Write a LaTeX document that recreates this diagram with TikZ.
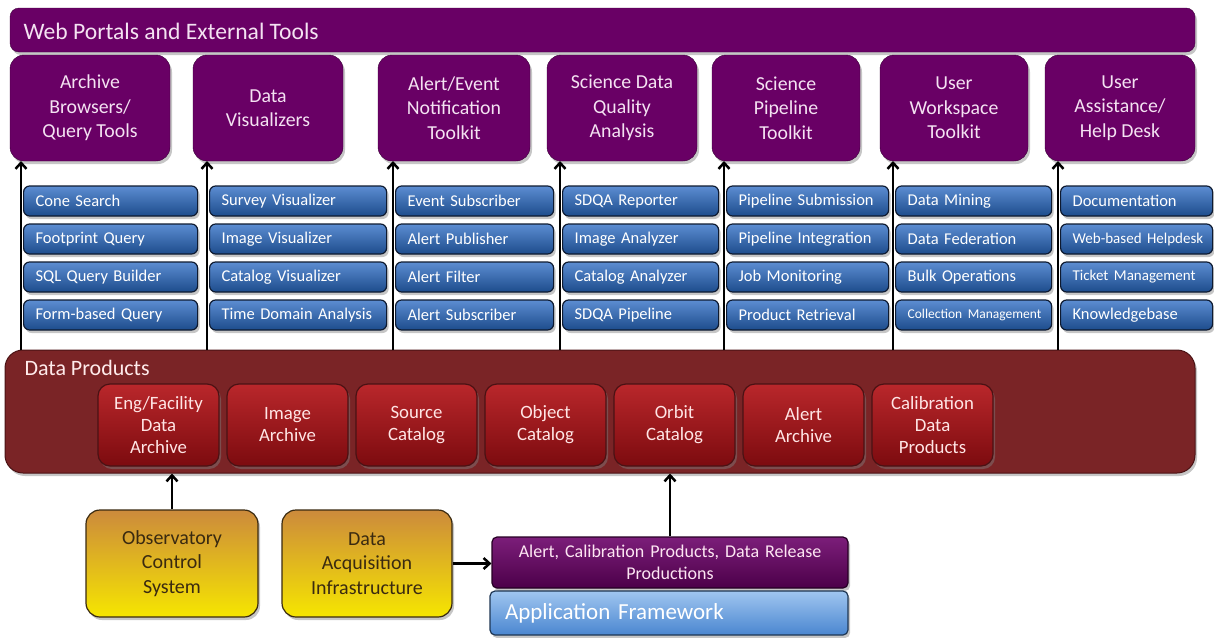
\documentclass[tikz,border=0pt]{standalone}
\usepackage{fontspec}
\setmainfont{Carlito}
\usetikzlibrary{arrows.meta,shadows,positioning}

\definecolor{portal}{HTML}{690065}
\definecolor{portaltext}{HTML}{F4E2F2}
\definecolor{subtop}{HTML}{5C8DD2}
\definecolor{subbot}{HTML}{1D4C8C}
\definecolor{subedge}{HTML}{0E1A30}
\definecolor{dpfill}{HTML}{7A2426}
\definecolor{dpedge}{HTML}{4A1214}
\definecolor{redtop}{HTML}{B9272B}
\definecolor{redbot}{HTML}{7C0B0F}
\definecolor{ctrltop}{HTML}{CC8A3C}
\definecolor{ctrlbot}{HTML}{F6E600}
\definecolor{ctrltext}{HTML}{3A2A10}
\definecolor{reltop}{HTML}{7C1E7A}
\definecolor{relbot}{HTML}{4C0049}
\definecolor{aftop}{HTML}{A0C6F0}
\definecolor{afbot}{HTML}{4A86D0}

\newcommand\smallsub{\fontsize{13.5}{15}\selectfont}
\newcommand\midsub{\fontsize{15}{17}\selectfont}

\tikzset{
  boxshadow/.style={drop shadow={opacity=0.45,shadow xshift=2pt,shadow yshift=-3pt}},
  portalbar/.style={fill=portal,draw=portal!60!black,rounded corners=9,boxshadow},
  toolbox/.style={fill=portal,draw=portal!55!black,rounded corners=14,boxshadow,
    minimum height=106,inner sep=0,text=portaltext,align=center,
    font=\fontsize{19.8}{24.5}\selectfont},
  subbox/.style={top color=subtop,bottom color=subbot,draw=subedge,line width=1.2,
    rounded corners=6,boxshadow,minimum height=30,inner xsep=12,inner ysep=0,
    anchor=west,align=left,text=white,font=\fontsize{16.5}{19}\selectfont},
  dpbox/.style={fill=dpfill,draw=dpedge,line width=1,rounded corners=18,boxshadow},
  prodbox/.style={top color=redtop,bottom color=redbot,draw=dpedge,line width=1.2,
    rounded corners=12,boxshadow,minimum width=121,minimum height=82,inner sep=0,
    align=center,text=white!90!red,font=\fontsize{18.8}{22}\selectfont},
  ctrlbox/.style={top color=ctrltop,bottom color=ctrlbot,draw=ctrltext,line width=1.2,
    rounded corners=14,boxshadow,minimum width=172,minimum height=107,inner sep=0,
    align=center,text=ctrltext,font=\fontsize{20}{24.5}\selectfont},
  relbox/.style={top color=reltop,bottom color=relbot,draw=relbot!50!black,line width=1.2,
    rounded corners=5,boxshadow,minimum width=356,minimum height=51,inner sep=0,
    text width=345,align=center,text=white!90!magenta,font=\fontsize{18}{22}\selectfont},
  afbox/.style={top color=aftop,bottom color=afbot,draw=afbot!40!black,line width=1.2,
    rounded corners=5,boxshadow,minimum height=44,inner xsep=15,inner ysep=0,
    text width=328,align=left,text=white,font=\fontsize{23}{26}\selectfont},
  uparrow/.style={-{Straight Barb[length=6pt,width=11pt]},line width=2.5,black},
}

\begin{document}
\begin{tikzpicture}[x=1pt,y=-1pt]
  \useasboundingbox (0,0) rectangle (1214,637);

  % web portals bar
  \node[portalbar,minimum width=1185,minimum height=44] (web) at (602.5,30) {};
  \node[anchor=west,text=portaltext,font=\fontsize{23.6}{27}\selectfont]
    (webtitle) at (20,31) {Web Portals and External Tools};

  % data products
  \node[dpbox,minimum width=1190,minimum height=123] (dp) at (600,411.5) {};
  \node[anchor=west,text=white!92!red,font=\fontsize{22}{26}\selectfont]
    (dptitle) at (21,368) {Data Products};
  \foreach \t [count=\k] in {{Eng/Facility\\Data\\Archive},{Image\\Archive},
      {Source\\Catalog},{Object\\Catalog},{Orbit\\Catalog},{Alert\\Archive},
      {Calibration\\Data\\Products}}
    \node[prodbox] (prod\k) at ({158.5+129*(\k-1)},425) {\t};

  % tool columns
  \foreach \i/\l/\r/\a/\sr/\name/\subs in {
      1/10/170/21/199/{Archive\\Browsers/\\Query Tools}/{Cone Search,Footprint Query,SQL Query Builder,Form-based Query},
      2/193/343/207/388/{Data\\Visualizers}/{Survey Visualizer,Image Visualizer,Catalog Visualizer,Time Domain Analysis},
      3/378/530/393/555/{Alert/Event\\Notification\\Toolkit}/{Event Subscriber,Alert Publisher,Alert Filter,Alert Subscriber},
      4/547/697/560/720/{Science Data\\Quality\\Analysis}/{SDQA Reporter,Image Analyzer,Catalog Analyzer,SDQA Pipeline},
      5/712/860/724/890/{Science\\Pipeline\\Toolkit}/{Pipeline Submission,Pipeline Integration,Job Monitoring,Product Retrieval},
      6/880/1028/893/1053/{User\\Workspace\\Toolkit}/{Data Mining,Data Federation,Bulk Operations,{\smallsub Collection Management}},
      7/1045/1195/1058/1214/{User\\Assistance/\\Help Desk}/{Documentation,{\midsub Web-based Helpdesk},{\midsub Ticket Management},Knowledgebase}}
  {
    \pgfmathsetmacro\bw{\r-\l}
    \pgfmathsetmacro\tw{\sr-\a-28}
    \node[toolbox,minimum width=\bw] (tool\i) at ({(\l+\r)/2},108) {\name};
    \coordinate (arr\i) at (\a,161);
    \foreach \s [count=\j] in \subs
      \node[subbox,text width=\tw pt] (sub\i-\j) at (\a+2,{163+38*\j}) {\mbox{\s}};
  }

  % lower systems
  \node[ctrlbox] (ocs) at (172,563.5) {Observatory\\Control\\System};
  \node[ctrlbox,minimum width=170] (dai) at (367,563.5) {Data\\Acquisition\\Infrastructure};
  \node[relbox] (rel) at (670,562.5) {Alert, Calibration Products, Data Release\\Productions};
  \node[afbox] (af) at (669,613) {Application Framework};

  % arrows
  \foreach \i in {1,...,7}
    \draw[uparrow] (arr\i |- dp.north) -- (arr\i);
  \draw[uparrow] (ocs.north) -- (ocs.north |- dp.south);
  \draw[uparrow] (rel.north) -- (rel.north |- dp.south);
  \draw[uparrow] (dai.east) -- (dai.east -| rel.west);
\end{tikzpicture}
\end{document}
